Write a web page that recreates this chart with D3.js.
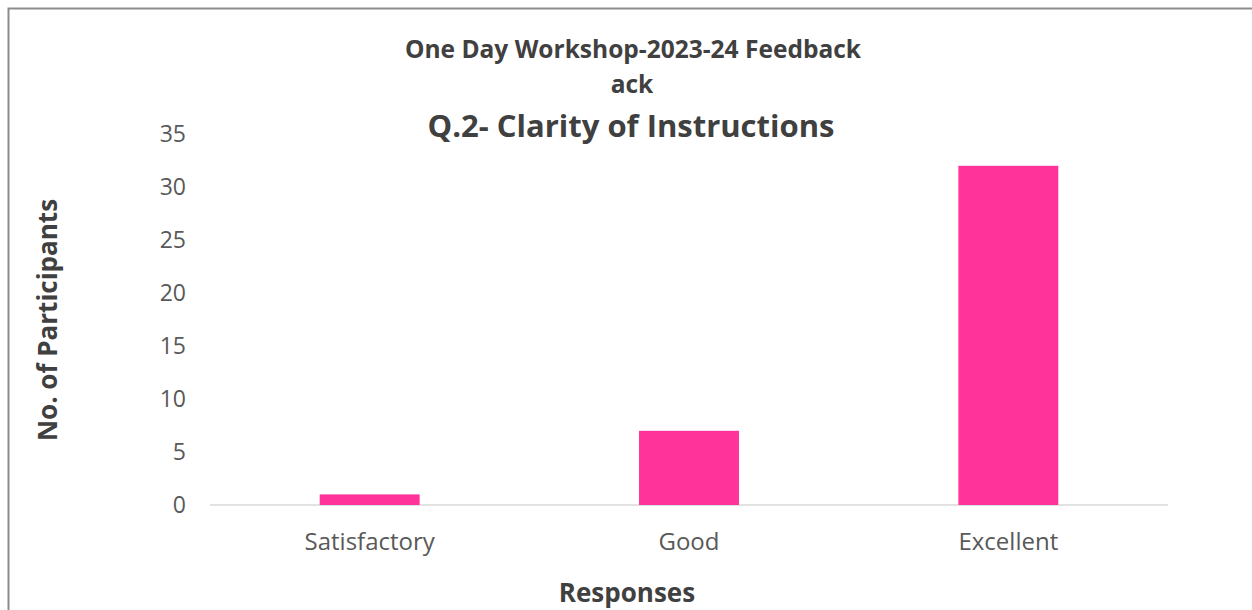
<!DOCTYPE html>
<html>
<head>
<meta charset="utf-8">
<script src="https://cdn.jsdelivr.net/npm/d3@7"></script>
<style>
  body { margin: 0; background: #fff; }
  svg { display: block; }
</style>
</head>
<body>
<div id="chart"></div>
<script>
// Data
var categories = ["Satisfactory", "Good", "Excellent"];
var counts = [1, 7, 32];
var yTicks = [0, 5, 10, 15, 20, 25, 30, 35];

var fontFamily = "'Open Sans', 'Noto Sans', sans-serif";
var barColor = "#ff3399";
var textColor = "#595959";

const width = 1252;
const height = 610;

var svg = d3.select("#chart")
  .append("svg")
  .attr("width", width)
  .attr("height", height)
  .style("font-family", fontFamily);

// Outer frame (only top and left edges show in the picture)
svg.append("rect")
  .attr("x", 8.5).attr("y", 8.5)
  .attr("width", width + 20).attr("height", height + 20)
  .attr("fill", "none")
  .attr("stroke", "#8c8c8c")
  .attr("stroke-width", 2);

// Scales
var x = d3.scaleBand()
  .domain(categories)
  .range([210, 1168])
  .paddingInner(0.687)
  .paddingOuter(0.3435);

var y = d3.scaleLinear()
  .domain([0, 35])
  .range([505, 134]);

// Baseline
svg.append("line")
  .attr("x1", 210).attr("x2", 1168)
  .attr("y1", y(0)).attr("y2", y(0))
  .attr("stroke", "#d9d9d9")
  .attr("stroke-width", 1.5);

// Bars
svg.selectAll("rect.bar")
  .data(categories)
  .enter().append("rect")
  .attr("class", "bar")
  .attr("x", function(d){ return x(d); })
  .attr("y", function(d, i){ return y(counts[i]); })
  .attr("width", x.bandwidth())
  .attr("height", function(d, i){ return y(0) - y(counts[i]); })
  .attr("fill", barColor);

// Y tick labels
svg.selectAll("text.ytick")
  .data(yTicks)
  .enter().append("text")
  .attr("class", "ytick")
  .attr("x", 186)
  .attr("y", function(d){ return y(d); })
  .attr("dy", "0.35em")
  .attr("text-anchor", "end")
  .attr("fill", textColor)
  .style("font-size", "23px")
  .text(function(d){ return d; });

// X tick labels
svg.selectAll("text.xtick")
  .data(categories)
  .enter().append("text")
  .attr("class", "xtick")
  .attr("x", function(d){ return x(d) + x.bandwidth() / 2; })
  .attr("y", 550)
  .attr("text-anchor", "middle")
  .attr("fill", textColor)
  .style("font-size", "24px")
  .text(function(d){ return d; });

// Titles
svg.append("text")
  .attr("x", 633).attr("y", 58)
  .attr("text-anchor", "middle")
  .attr("fill", "#404040")
  .style("font-size", "24.5px")
  .style("font-weight", "bold")
  .text("One Day Workshop-2023-24 Feedback");

svg.append("text")
  .attr("x", 632).attr("y", 93)
  .attr("text-anchor", "middle")
  .attr("fill", "#404040")
  .style("font-size", "24.5px")
  .style("font-weight", "bold")
  .text("ack");

svg.append("text")
  .attr("x", 631).attr("y", 137)
  .attr("text-anchor", "middle")
  .attr("fill", "#404040")
  .style("font-size", "31px")
  .style("font-weight", "bold")
  .text("Q.2- Clarity of Instructions");

// Axis titles
svg.append("text")
  .attr("transform", "translate(57,320) rotate(-90)")
  .attr("text-anchor", "middle")
  .attr("fill", "#404040")
  .style("font-size", "26px")
  .style("font-weight", "bold")
  .text("No. of Participants");

svg.append("text")
  .attr("x", 627).attr("y", 602)
  .attr("text-anchor", "middle")
  .attr("fill", "#404040")
  .style("font-size", "26px")
  .style("font-weight", "bold")
  .text("Responses");
</script>
</body>
</html>
